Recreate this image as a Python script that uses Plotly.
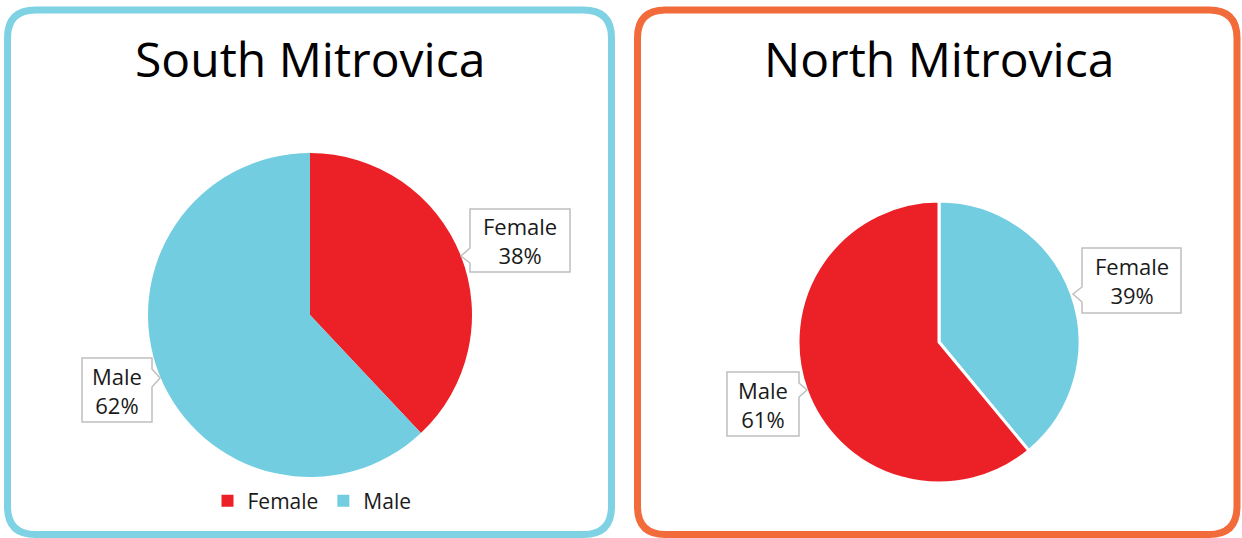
import plotly.graph_objects as go

W, H = 1242, 538

# ---- data ----
south_labels = ["Female", "Male"]
south_values = [38, 62]
north_labels = ["Female", "Male"]
north_values = [39, 61]
titles = ["South Mitrovica", "North Mitrovica"]

RED = "#ec2027"
BLUE = "#73cde0"
FONT = "Open Sans"


def px(x):
    return x / W


def py(y):
    return 1 - y / H


fig = go.Figure()

fig.add_trace(go.Pie(
    labels=south_labels, values=south_values, sort=False, direction="clockwise",
    rotation=0, marker=dict(colors=[RED, BLUE], line=dict(width=0)),
    textinfo="none", hoverinfo="label+percent",
    domain=dict(x=[px(148), px(472)], y=[py(477), py(153)]),
    legend="legend",
))
fig.add_trace(go.Pie(
    labels=north_labels, values=north_values, sort=False, direction="clockwise",
    rotation=0, marker=dict(colors=[BLUE, RED], line=dict(color="white", width=3)),
    textinfo="none", hoverinfo="label+percent",
    domain=dict(x=[px(798), px(1080)], y=[py(483), py(201)]),
    legend="legend2",
))


def rounded_rect(x0, y0, x1, y1, r):
    return (f"M {px(x0 + r)},{py(y0)} L {px(x1 - r)},{py(y0)} "
            f"Q {px(x1)},{py(y0)} {px(x1)},{py(y0 + r)} "
            f"L {px(x1)},{py(y1 - r)} Q {px(x1)},{py(y1)} {px(x1 - r)},{py(y1)} "
            f"L {px(x0 + r)},{py(y1)} Q {px(x0)},{py(y1)} {px(x0)},{py(y1 - r)} "
            f"L {px(x0)},{py(y0 + r)} Q {px(x0)},{py(y0)} {px(x0 + r)},{py(y0)} Z")


shapes = [
    dict(type="path", xref="paper", yref="paper",
         path=rounded_rect(7.5, 10, 611.5, 534.5, 28),
         line=dict(color="#7fd2e3", width=7), fillcolor="rgba(0,0,0,0)", layer="below"),
    dict(type="path", xref="paper", yref="paper",
         path=rounded_rect(637.5, 10, 1237, 534.5, 28),
         line=dict(color="#f26b3a", width=7), fillcolor="rgba(0,0,0,0)", layer="below"),
]


def callout(x0, y0, x1, y1, side, ny0, ny1, tipx, tipy):
    if side == "left":
        path = (f"M {px(x0)},{py(y0)} L {px(x1)},{py(y0)} L {px(x1)},{py(y1)} "
                f"L {px(x0)},{py(y1)} L {px(x0)},{py(ny1)} L {px(tipx)},{py(tipy)} "
                f"L {px(x0)},{py(ny0)} Z")
    else:
        path = (f"M {px(x0)},{py(y0)} L {px(x1)},{py(y0)} L {px(x1)},{py(ny0)} "
                f"L {px(tipx)},{py(tipy)} L {px(x1)},{py(ny1)} L {px(x1)},{py(y1)} "
                f"L {px(x0)},{py(y1)} Z")
    return dict(type="path", xref="paper", yref="paper", path=path,
                fillcolor="white", line=dict(color="#bfbfbf", width=1.5), layer="above")


shapes += [
    callout(470, 209, 570, 272, "left", 248, 263, 461, 256),
    callout(82, 358, 152, 422, "right", 369, 387, 160, 378),
    callout(1082, 248, 1181, 313, "left", 287, 302, 1073, 294),
    callout(727, 372, 799, 436, "right", 383, 397, 807, 390),
]

annotations = [
    dict(text=titles[0], x=px(310), y=py(59), xref="paper", yref="paper",
         xanchor="center", yanchor="middle",
         showarrow=False, font=dict(size=48, color="black", family=FONT)),
    dict(text=titles[1], x=px(939), y=py(59), xref="paper", yref="paper",
         xanchor="center", yanchor="middle",
         showarrow=False, font=dict(size=48, color="black", family=FONT)),
]

labels_pos = [
    (f"{south_labels[0]}<br>{south_values[0]}%", 520, 240.5),
    (f"{south_labels[1]}<br>{south_values[1]}%", 117, 390),
    (f"{north_labels[0]}<br>{north_values[0]}%", 1131.5, 280.5),
    (f"{north_labels[1]}<br>{north_values[1]}%", 763, 404),
]
for t, x, y in labels_pos:
    annotations.append(dict(text=t, x=px(x), y=py(y), xref="paper", yref="paper",
                            xanchor="center", yanchor="middle",
                            showarrow=False, align="center",
                            font=dict(size=22, color="#1a1a1a", family=FONT)))

fig.update_layout(
    width=W, height=H,
    margin=dict(l=0, r=0, t=0, b=0),
    paper_bgcolor="white", plot_bgcolor="white",
    font=dict(family=FONT, color="#1a1a1a"),
    shapes=shapes, annotations=annotations,
    showlegend=True,
    legend=dict(orientation="h", x=px(312), y=py(501), xanchor="center", yanchor="middle",
                font=dict(size=21, family=FONT, color="#1a1a1a"), itemwidth=30,
                bgcolor="rgba(0,0,0,0)"),
    legend2=dict(orientation="h", x=px(941), y=py(126), xanchor="center", yanchor="middle",
                 font=dict(size=20, family=FONT, color="#1a1a1a"), itemwidth=30,
                 bgcolor="rgba(0,0,0,0)"),
)

fig.write_html("out.html", config={"displayModeBar": False},
               post_script="document.body.style.margin='0px';")
